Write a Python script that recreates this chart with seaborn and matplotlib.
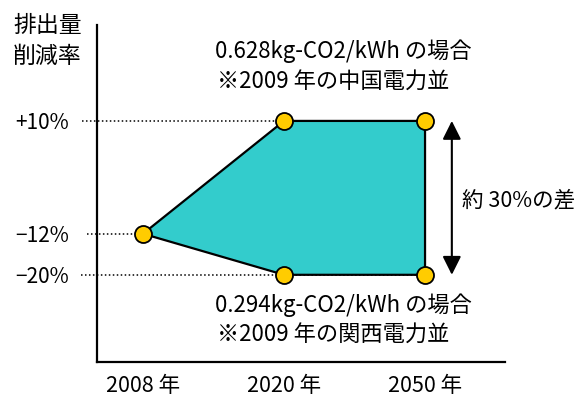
import matplotlib
matplotlib.use("Agg")
import matplotlib.pyplot as plt
import seaborn as sns
import pandas as pd

# Scenario data: emission reduction rate per year under two CO2 intensities
years = ["2008 年", "2020 年", "2050 年"]
high_intensity = [-12, 10, 10]    # 0.628 kg-CO2/kWh
low_intensity = [-12, -20, -20]   # 0.294 kg-CO2/kWh
ytick_values = [10, -12, -20]
ytick_labels = ["+10%", "−12%", "−20%"]

high_note = ["0.628kg-CO2/kWh の場合", "※2009 年の中国電力並"]
low_note = ["0.294kg-CO2/kWh の場合", "※2009 年の関西電力並"]
gap_label = "約 30%の差"
ylabel_lines = ["排出量", "削減率"]

sns.set_theme(style="white")
FAMILY = ["Noto Sans CJK JP", "DejaVu Sans"]
plt.rcParams["font.family"] = FAMILY

W, H = 582, 399
fig = plt.figure(figsize=(W / 100, H / 100), dpi=100)
ax = fig.add_axes([97 / W, 1 - 362 / H, 408 / W, 337 / H])

pos = list(range(len(years)))
ax.set_xlim(-0.326, 2.567)
ax.set_ylim(-37.0, 28.7)

# Dotted guide lines from each tick label to its point
guide_ends = {10: 2, -12: 0, -20: 2}
guide_starts = {10: -0.43, -12: -0.40, -20: -0.44}
for v in ytick_values:
    ax.plot([guide_starts[v], guide_ends[v]], [v, v], color="black",
            linestyle=(0, (1, 1.6)), linewidth=1.1, clip_on=False, zorder=1)

# Shaded range between the two scenarios
poly_x = pos + pos[::-1][:-1]
poly_y = high_intensity + low_intensity[::-1][:-1]
ax.fill(poly_x, poly_y, facecolor="#33CCCC", edgecolor="black",
        linewidth=1.6, zorder=2)

# Data points
pts = pd.DataFrame({
    "x": pos + pos[1:],
    "y": high_intensity + low_intensity[1:],
})
sns.scatterplot(data=pts, x="x", y="y", ax=ax, s=150, color="#FFCC00",
                edgecolor="black", linewidth=1.3, zorder=4, clip_on=False,
                legend=False)

# Double-headed arrow for the spread
ax.annotate("", xy=(2.19, high_intensity[-1]), xytext=(2.19, low_intensity[-1]),
            arrowprops=dict(arrowstyle="<|-|>,head_length=0.8,head_width=0.4",
                            mutation_scale=14, color="black", linewidth=1.5,
                            shrinkA=0, shrinkB=0), zorder=3)

ax.set_xticks(pos)
ax.set_xticklabels(years)
ax.set_yticks(ytick_values)
ax.set_yticklabels(ytick_labels)
ax.tick_params(axis="both", length=0, labelsize=15, colors="black")
ax.tick_params(axis="x", pad=9, labelsize=15.5)
ax.tick_params(axis="y", pad=20)
ax.set_xlabel("")
ax.set_ylabel("")

for side in ["top", "right"]:
    ax.spines[side].set_visible(False)
for side in ["left", "bottom"]:
    ax.spines[side].set_color("black")
    ax.spines[side].set_linewidth(1.6)


def put(text, x, y, size=16):
    fig.text(x / W, 1 - y / H, text, ha="left", va="center",
             fontsize=size, color="black", family=FAMILY)


put(ylabel_lines[0], 13, 26, 16.5)
put(ylabel_lines[1], 13, 56, 16.5)
put(high_note[0], 215, 51)
put(high_note[1], 217, 82)
put(low_note[0], 215, 305)
put(low_note[1], 217, 335)
put(gap_label, 462, 200, 15.5)

fig.savefig("out.png", dpi=100, facecolor="white")
